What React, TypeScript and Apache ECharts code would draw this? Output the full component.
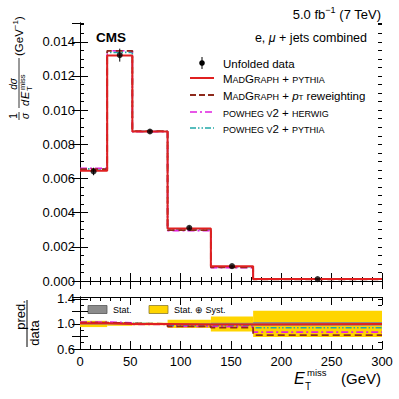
import React, { useEffect, useRef } from "react";
import * as echarts from "echarts";

const FONT = "'Liberation Sans', Arial, Helvetica, sans-serif";

// ---- data ----
const binEdges = [0, 27, 52, 87, 130, 172, 300];
const binCenters = [13.5, 39.5, 69.5, 108.5, 151, 236];
const unfoldedData = [0.00641, 0.01322, 0.00875, 0.00311, 0.00087, 0.00011];
const unfoldedErr = [0.00022, 0.00038, 0.00012, 0.0001, 0.00004, 0.00002];
const madgraphPythia = [0.00645, 0.0132, 0.00875, 0.00307, 0.00087, 0.00012];
const madgraphPtRew = [0.00655, 0.01347, 0.00877, 0.00298, 0.0008, 0.0001];
const powhegHerwig = [0.0066, 0.01348, 0.00874, 0.00295, 0.00078, 0.0001];
const powhegPythia = [0.00656, 0.01338, 0.00876, 0.003, 0.00083, 0.00011];
const ratioMadgraphPythia = [1.01, 1.0, 1.0, 0.99, 0.99, 1.0];
const ratioMadgraphPtRew = [1.02, 1.01, 1.0, 0.96, 0.94, 0.82];
const ratioPowhegHerwig = [1.03, 1.02, 0.99, 0.96, 0.95, 0.87];
const ratioPowhegPythia = [1.02, 1.01, 1.0, 0.97, 0.98, 0.94];
const statUnc = [0.01, 0.008, 0.006, 0.01, 0.02, 0.03];
const totalUnc = [0.05, 0.03, 0.02, 0.065, 0.12, 0.21];
const mainYLabelTicks = [0, 0.002, 0.004, 0.006, 0.008, 0.01, 0.012, 0.014];
const ratioYLabelTicks = [0.6, 1.0, 1.4];

const RED = "#e02020";
const BROWN = "#8e2a1c";
const MAGENTA = "#e020e0";
const CYAN = "#20a8a8";
const GOLD = "#ffd500";
const GRAY = "#8c8c8c";

function stepPoints(vals: number[]) {
  const pts = vals.map((v, i) => [binEdges[i], v]);
  pts.push([binEdges[binEdges.length - 1], vals[vals.length - 1]]);
  return pts;
}

const axisLineStyle = { show: true, lineStyle: { color: "#000", width: 1 } };

function xAxes(gridIndex: number, showLabels: boolean) {
  const base = (position: string, labels: boolean) => ({
    type: "value",
    gridIndex,
    position,
    min: 0,
    max: 300,
    interval: 50,
    axisLine: axisLineStyle,
    axisTick: { show: true, inside: true, length: 8, lineStyle: { color: "#000" } },
    minorTick: { show: true, splitNumber: 5, length: 4, lineStyle: { color: "#000" } },
    splitLine: { show: false },
    minorSplitLine: { show: false },
    axisLabel: {
      show: labels,
      margin: 6,
      color: "#000",
      fontFamily: FONT,
      fontSize: 13,
    },
  });
  return [base("bottom", showLabels), base("top", false)];
}

function yAxes(
  gridIndex: number,
  min: number,
  max: number,
  major: number,
  minor: number,
  labelTicks: number[],
  digits: number
) {
  const fmt = (v: number) =>
    labelTicks.some((t) => Math.abs(t - v) < major * 1e-3) ? v.toFixed(digits) : "";
  const mk = (position: string, isMajor: boolean, labels: boolean) => ({
    type: "value",
    gridIndex,
    position,
    min,
    max,
    interval: isMajor ? major : minor,
    axisLine: isMajor ? axisLineStyle : { show: false },
    axisTick: {
      show: true,
      inside: true,
      length: isMajor ? 8 : 4,
      lineStyle: { color: "#000" },
    },
    splitLine: { show: false },
    axisLabel: {
      show: labels,
      margin: 5,
      color: "#000",
      fontFamily: FONT,
      fontSize: 13,
      formatter: fmt,
      showMaxLabel: false,
    },
  });
  return [mk("left", true, true), mk("right", true, false), mk("left", false, false), mk("right", false, false)];
}

function histSeries(vals: number[], color: string, width: number, type: any, xi: number, yi: number, z: number) {
  return {
    type: "line",
    xAxisIndex: xi,
    yAxisIndex: yi,
    step: "end",
    data: stepPoints(vals),
    symbol: "none",
    lineStyle: { color, width, type },
    z,
    silent: true,
  };
}

function bandSeries(unc: number[], color: string, z: number) {
  return {
    type: "custom",
    xAxisIndex: 2,
    yAxisIndex: 4,
    z,
    silent: true,
    data: unc.map((u, i) => [binEdges[i], binEdges[i + 1], 1 - u, 1 + u]),
    encode: { x: [0, 1], y: [2, 3] },
    renderItem: (_p: any, api: any) => {
      const a = api.coord([api.value(0), api.value(3)]);
      const b = api.coord([api.value(1), api.value(2)]);
      return {
        type: "rect",
        shape: { x: a[0], y: a[1], width: b[0] - a[0], height: b[1] - a[1] },
        style: { fill: color },
      };
    },
  };
}

const DASH = [7, 4];
const DASHDOT = [7, 3, 2, 3];
const DASHDOTDOT = [6, 2, 1.5, 2, 1.5, 2];

function legendText(x: number, y: number, rich: string) {
  return {
    type: "text",
    x,
    y,
    style: {
      text: rich,
      align: "left",
      verticalAlign: "middle",
      fill: "#000",
      rich: {
        b: { fontSize: 11.5, fontFamily: FONT, fill: "#000", verticalAlign: "bottom", lineHeight: 13 },
        s: { fontSize: 9, fontFamily: FONT, fill: "#000", verticalAlign: "bottom", lineHeight: 13 },
        i: { fontSize: 11.5, fontFamily: FONT, fontStyle: "italic", fill: "#000", verticalAlign: "bottom", lineHeight: 13 },
        sub: { fontSize: 8, fontFamily: FONT, fill: "#000", verticalAlign: "bottom", lineHeight: 10 },
      },
    },
  };
}

function txt(x: number, y: number, text: string, font: string, align = "left") {
  return { type: "text", x, y, style: { text, font, fill: "#000", align, verticalAlign: "middle" } };
}

export default function App() {
  const ref = useRef<HTMLDivElement>(null);
  useEffect(() => {
    if (!ref.current) return;
    const chart = echarts.init(ref.current, null, { renderer: "svg" });
    const option: any = {
      animation: false,
      backgroundColor: "#fff",
      grid: [
        { left: 80, top: 23, width: 302, height: 258 },
        { left: 80, top: 297, width: 302, height: 52 },
      ],
      xAxis: [...xAxes(0, false), ...xAxes(1, true)],
      yAxis: [
        ...yAxes(0, 0, 0.0151, 0.002, 0.0005, mainYLabelTicks, 3),
        ...yAxes(1, 0.6, 1.43, 0.2, 0.1, ratioYLabelTicks, 1),
      ],
      series: [
        histSeries(powhegPythia, CYAN, 1.6, DASHDOTDOT, 0, 0, 3),
        histSeries(powhegHerwig, MAGENTA, 1.6, DASHDOT, 0, 0, 4),
        histSeries(madgraphPtRew, BROWN, 1.8, DASH, 0, 0, 5),
        histSeries(madgraphPythia, RED, 2, "solid", 0, 0, 6),
        {
          type: "custom",
          xAxisIndex: 0,
          yAxisIndex: 0,
          z: 9,
          silent: true,
          data: binCenters.map((x, i) => [x, unfoldedData[i] - unfoldedErr[i], unfoldedData[i] + unfoldedErr[i]]),
          encode: { x: 0, y: [1, 2] },
          renderItem: (_p: any, api: any) => {
            const p1 = api.coord([api.value(0), api.value(1)]);
            const p2 = api.coord([api.value(0), api.value(2)]);
            return {
              type: "line",
              shape: { x1: p1[0], y1: p1[1], x2: p2[0], y2: p2[1] },
              style: { stroke: "#000", lineWidth: 1 },
            };
          },
        },
        {
          type: "scatter",
          xAxisIndex: 0,
          yAxisIndex: 0,
          z: 10,
          silent: true,
          symbol: "circle",
          symbolSize: 6,
          itemStyle: { color: "#000" },
          data: binCenters.map((x, i) => [x, unfoldedData[i]]),
        },
        bandSeries(totalUnc, GOLD, 1),
        bandSeries(statUnc, GRAY, 2),
        histSeries(ratioPowhegPythia, CYAN, 1.6, DASHDOTDOT, 2, 4, 3),
        histSeries(ratioPowhegHerwig, MAGENTA, 1.6, DASHDOT, 2, 4, 4),
        histSeries(ratioMadgraphPtRew, BROWN, 1.8, DASH, 2, 4, 5),
        histSeries(ratioMadgraphPythia, RED, 2, "solid", 2, 4, 6),
      ],
      graphic: [
        // header
        {
          type: "text",
          x: 381,
          y: 13,
          style: {
            text: "{n|5.0 fb}{sup|−1}{n| (7 TeV)}",
            align: "right",
            verticalAlign: "middle",
            rich: {
              n: { fontSize: 13, fontFamily: FONT, fill: "#000", verticalAlign: "bottom", lineHeight: 16 },
              sup: { fontSize: 9, fontFamily: FONT, fill: "#000", verticalAlign: "top", lineHeight: 16 },
            },
          },
        },
        txt(96, 37, "CMS", `bold 13.5px ${FONT}`),
        {
          type: "text",
          x: 367,
          y: 37,
          style: {
            text: "{n|e, }{i|μ}{n| + jets combined}",
            align: "right",
            verticalAlign: "middle",
            rich: {
              n: { fontSize: 12.5, fontFamily: FONT, fill: "#000", verticalAlign: "bottom", lineHeight: 15 },
              i: { fontSize: 12.5, fontFamily: FONT, fontStyle: "italic", fill: "#000", verticalAlign: "bottom", lineHeight: 15 },
            },
          },
        },
        // legend
        { type: "line", shape: { x1: 202, y1: 57, x2: 202, y2: 69 }, style: { stroke: "#000", lineWidth: 1 } },
        { type: "circle", shape: { cx: 202, cy: 63, r: 2.8 }, style: { fill: "#000" } },
        legendText(223, 63, "{b|Unfolded data}"),
        { type: "line", shape: { x1: 190, y1: 78, x2: 214, y2: 78 }, style: { stroke: RED, lineWidth: 2 } },
        legendText(223, 78, "{b|M}{s|AD}{b|G}{s|RAPH}{b| + }{s|PYTHIA}"),
        { type: "line", shape: { x1: 190, y1: 95, x2: 214, y2: 95 }, style: { stroke: BROWN, lineWidth: 1.8, lineDash: [6, 3] } },
        legendText(223, 95, "{b|M}{s|AD}{b|G}{s|RAPH}{b| + }{i|p}{sub|T}{b| reweighting}"),
        { type: "line", shape: { x1: 190, y1: 112, x2: 214, y2: 112 }, style: { stroke: MAGENTA, lineWidth: 1.6, lineDash: DASHDOT } },
        legendText(223, 112, "{s|POWHEG V}{b|2 + }{s|HERWIG}"),
        { type: "line", shape: { x1: 190, y1: 128, x2: 214, y2: 128 }, style: { stroke: CYAN, lineWidth: 1.6, lineDash: DASHDOTDOT } },
        legendText(223, 128, "{s|POWHEG V}{b|2 + }{s|PYTHIA}"),
        // ratio legend
        { type: "rect", shape: { x: 88, y: 305.5, width: 19, height: 8 }, style: { fill: GRAY, stroke: "#555", lineWidth: 0.8 } },
        txt(113, 309.5, "Stat.", `9px ${FONT}`),
        { type: "rect", shape: { x: 149, y: 305.5, width: 19, height: 8 }, style: { fill: GOLD, stroke: "#8a7a30", lineWidth: 0.8 } },
        txt(174, 309.5, "Stat. ⊕ Syst.", `9px ${FONT}`),
        // x axis title
        txt(294, 378, "E", `italic 16px ${FONT}`),
        txt(307, 372, "miss", `9.5px ${FONT}`),
        txt(305, 386, "T", `10px ${FONT}`),
        txt(381, 378, "(GeV)", `15px ${FONT}`, "right"),
        // main y title (rotated)
        {
          type: "group",
          x: 20,
          y: 120,
          rotation: Math.PI / 2,
          children: [
            txt(4, -7, "1", `10px ${FONT}`, "center"),
            { type: "line", shape: { x1: 0, y1: -1, x2: 8, y2: -1 }, style: { stroke: "#000", lineWidth: 0.8 } },
            txt(4, 5, "σ", `italic 10px ${FONT}`, "center"),
            txt(36, -7, "dσ", `italic 10px ${FONT}`, "center"),
            { type: "line", shape: { x1: 12, y1: -1, x2: 62, y2: -1 }, style: { stroke: "#000", lineWidth: 0.8 } },
            txt(14, 5, "d", `italic 11px ${FONT}`),
            txt(21, 5, "E", `italic 11px ${FONT}`),
            txt(30, 2, "miss", `7.5px ${FONT}`),
            txt(29, 9, "T", `7.5px ${FONT}`),
            {
              type: "text",
              x: 64,
              y: -2,
              style: {
                text: "{n|(GeV}{sup|−1}{n|)}",
                align: "left",
                verticalAlign: "middle",
                rich: {
                  n: { fontSize: 11.5, fontFamily: FONT, fill: "#000", verticalAlign: "bottom", lineHeight: 14 },
                  sup: { fontSize: 8, fontFamily: FONT, fill: "#000", verticalAlign: "top", lineHeight: 14 },
                },
              },
            },
          ],
        },
        // ratio y title (rotated)
        {
          type: "group",
          x: 27,
          y: 349,
          rotation: Math.PI / 2,
          children: [
            txt(34, -7, "pred.", `13px ${FONT}`, "center"),
            { type: "line", shape: { x1: 2, y1: 0, x2: 49, y2: 0 }, style: { stroke: "#000", lineWidth: 1 } },
            txt(16, 7, "data", `13px ${FONT}`, "center"),
          ],
        },
      ],
    };
    chart.setOption(option);
    return () => chart.dispose();
  }, []);
  return <div ref={ref} style={{ width: 399, height: 399, position: "absolute", left: 0, top: 0 }} />;
}
